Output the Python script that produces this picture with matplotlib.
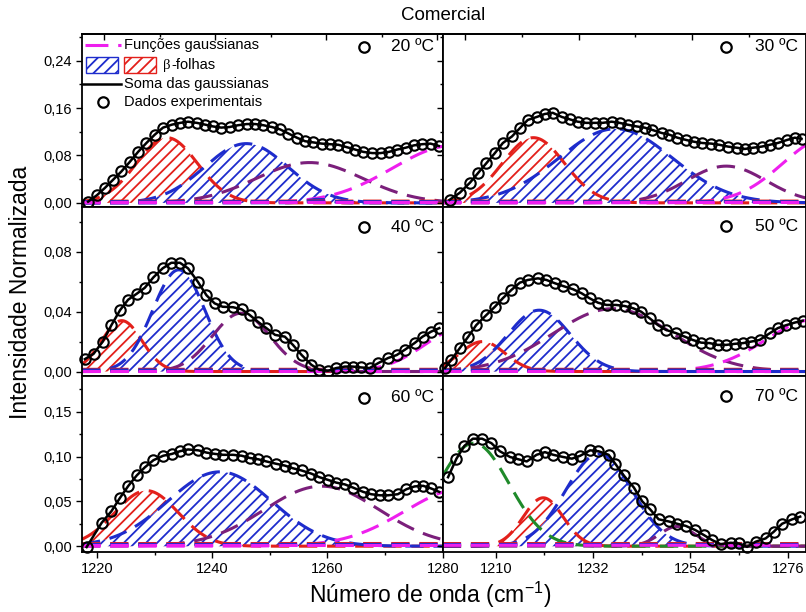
import numpy as np
import matplotlib
matplotlib.use('Agg')
import matplotlib.pyplot as plt
from matplotlib.lines import Line2D
from matplotlib.patches import Rectangle
from matplotlib.ticker import FixedLocator, NullFormatter

plt.rcParams['font.family'] = ['Liberation Sans', 'DejaVu Sans']
plt.rcParams['mathtext.fontset'] = 'custom'
plt.rcParams['mathtext.rm'] = 'Liberation Sans'
plt.rcParams['mathtext.it'] = 'Liberation Sans:italic'
plt.rcParams['hatch.linewidth'] = 1.3

# ---------------- data ----------------
temps = ['20 ºC', '30 ºC', '40 ºC', '50 ºC', '60 ºC', '70 ºC']

wn_20 = [1217.1, 1218.7, 1220.1, 1221.6, 1223.1, 1224.6, 1226.1, 1227.6, 1229.1, 1230.6,
         1232.2, 1233.7, 1235.1, 1236.7, 1238.2, 1239.6, 1241.1, 1242.6, 1244.1, 1245.7,
         1247.2, 1248.7, 1250.2, 1251.7, 1253.2, 1254.7, 1256.2, 1257.7, 1259.2, 1260.7,
         1262.2, 1263.7, 1265.2, 1266.7, 1268.3, 1269.8, 1271.3, 1272.8, 1274.3, 1275.8,
         1277.3, 1278.8, 1280.3]
int_20 = [0.002, 0.013, 0.025, 0.039, 0.053, 0.069, 0.086, 0.101, 0.115, 0.127,
          0.132, 0.135, 0.137, 0.135, 0.132, 0.129, 0.127, 0.128, 0.131, 0.133,
          0.133, 0.131, 0.128, 0.124, 0.117, 0.110, 0.104, 0.102, 0.100, 0.099,
          0.098, 0.094, 0.090, 0.086, 0.084, 0.084, 0.086, 0.090, 0.093, 0.097,
          0.099, 0.100, 0.096]

wn_30 = [1217.2, 1219.0, 1220.8, 1222.2, 1223.7, 1225.2, 1226.6, 1228.2, 1229.6, 1231.0,
         1232.6, 1234.0, 1235.4, 1237.0, 1238.4, 1239.8, 1241.3, 1242.8, 1244.2, 1245.8,
         1247.2, 1248.6, 1250.2, 1251.6, 1253.0, 1254.6, 1256.0, 1257.4, 1259.0, 1260.4,
         1261.8, 1263.4, 1264.8, 1266.3, 1267.9, 1269.3, 1270.7, 1272.3, 1273.7, 1275.1,
         1276.7, 1278.1, 1279.3]
int_30 = [0.005, 0.017, 0.034, 0.050, 0.067, 0.084, 0.101, 0.112, 0.126, 0.140,
          0.145, 0.150, 0.152, 0.145, 0.141, 0.137, 0.135, 0.135, 0.135, 0.137,
          0.135, 0.132, 0.129, 0.127, 0.123, 0.118, 0.115, 0.110, 0.106, 0.103,
          0.101, 0.100, 0.098, 0.095, 0.093, 0.091, 0.093, 0.095, 0.098, 0.101,
          0.106, 0.110, 0.108]

wn_40 = [1217.9, 1219.4, 1221.0, 1222.5, 1224.0, 1225.4, 1226.9, 1228.3, 1229.8, 1231.4,
         1232.9, 1234.4, 1235.8, 1237.5, 1239.0, 1240.4, 1241.8, 1243.6, 1245.1, 1246.5,
         1247.9, 1249.4, 1250.9, 1252.6, 1254.0, 1255.5, 1257.2, 1258.6, 1260.1, 1261.5,
         1263.0, 1264.4, 1265.9, 1267.3, 1268.8, 1270.5, 1272.0, 1273.4, 1275.1, 1276.5,
         1278.0, 1279.4]
int_40 = [0.0083, 0.0118, 0.020, 0.031, 0.041, 0.048, 0.052, 0.056, 0.063, 0.069,
          0.0727, 0.0727, 0.069, 0.060, 0.051, 0.0456, 0.0433, 0.043, 0.0416, 0.0378,
          0.0333, 0.029, 0.0245, 0.0233, 0.0178, 0.0111, 0.0045, 0.0011, 0.0005, 0.0023,
          0.0033, 0.0033, 0.0027, 0.0023, 0.0056, 0.009, 0.011, 0.0145, 0.019, 0.0233,
          0.0267, 0.029]

wn_50 = [1216.4, 1217.5, 1219.0, 1220.5, 1221.9, 1223.7, 1225.2, 1226.6, 1228.1, 1229.6,
         1231.0, 1232.8, 1234.3, 1235.8, 1237.2, 1239.0, 1240.5, 1241.9, 1243.4, 1244.9,
         1246.6, 1248.1, 1249.6, 1251.0, 1252.5, 1254.0, 1255.4, 1257.2, 1258.7, 1260.1,
         1261.6, 1263.1, 1264.5, 1266.0, 1267.5, 1269.0, 1270.4, 1271.9, 1273.7, 1275.1,
         1276.6, 1278.1, 1279.5]
int_50 = [0.0023, 0.0078, 0.0156, 0.0233, 0.031, 0.0378, 0.0433, 0.049, 0.0545, 0.0594,
          0.0612, 0.0623, 0.0612, 0.059, 0.0572, 0.055, 0.0523, 0.049, 0.046, 0.0445,
          0.0445, 0.0438, 0.0423, 0.040, 0.0356, 0.031, 0.0278, 0.0256, 0.0233, 0.0211,
          0.0193, 0.019, 0.0178, 0.0178, 0.0185, 0.019, 0.020, 0.0211, 0.0256, 0.029,
          0.031, 0.0327, 0.034]

wn_60 = [1218.2, 1220.8, 1222.5, 1224.0, 1225.4, 1226.9, 1228.3, 1229.8, 1231.5, 1233.0,
         1234.4, 1235.8, 1237.6, 1239.0, 1240.5, 1241.9, 1243.6, 1245.1, 1246.5, 1248.0,
         1249.4, 1251.1, 1252.6, 1254.0, 1255.5, 1257.2, 1258.6, 1260.1, 1261.5, 1263.0,
         1264.4, 1266.2, 1267.6, 1269.1, 1270.5, 1272.2, 1273.7, 1275.1, 1276.6, 1278.0,
         1279.4]
int_60 = [-0.001, 0.026, 0.039, 0.054, 0.067, 0.079, 0.088, 0.096, 0.101, 0.103,
          0.106, 0.108, 0.107, 0.1045, 0.103, 0.102, 0.102, 0.101, 0.0985, 0.097,
          0.0946, 0.092, 0.090, 0.087, 0.0845, 0.081, 0.077, 0.074, 0.071, 0.069,
          0.0655, 0.0606, 0.058, 0.0568, 0.0568, 0.058, 0.0636, 0.0667, 0.0674, 0.0644,
          0.0606]

wn_70 = [1199.2, 1201.1, 1202.9, 1204.8, 1206.9, 1209.0, 1210.9, 1213.2, 1215.1, 1217.0,
         1219.2, 1221.1, 1223.0, 1225.2, 1227.2, 1229.1, 1231.3, 1233.2, 1235.5, 1237.0,
         1238.9, 1241.2, 1243.1, 1244.9, 1246.8, 1249.1, 1251.0, 1252.9, 1255.1, 1257.0,
         1258.9, 1260.8, 1263.1, 1264.9, 1266.8, 1268.7, 1271.0, 1272.8, 1274.7, 1277.0,
         1278.8]
int_70 = [0.077, 0.0977, 0.112, 0.120, 0.120, 0.115, 0.106, 0.0996, 0.097, 0.0946,
          0.102, 0.105, 0.102, 0.0996, 0.0977, 0.101, 0.107, 0.106, 0.102, 0.092,
          0.079, 0.0655, 0.050, 0.041, 0.030, 0.0276, 0.025, 0.0227, 0.018, 0.0125,
          0.0068, 0.0023, 0.0038, 0.003, -0.0008, 0.0049, 0.0087, 0.016, 0.025, 0.030,
          0.033]

# Gaussian components: (kind, centre, amplitude, sigma); 'rf'/'bf' = hatched beta-sheet bands
comp_20 = [('rf', 1231.3, 0.110, 5.5), ('bf', 1245.6, 0.100, 7.5), ('p', 1257.0, 0.068, 9.6),
           ('m', 1283.0, 0.097, 11.0), ('b', 1258.5, 0.006, 2.0),
           ('r', 1250, 0.003, 200), ('b', 1250, 0.002, 200), ('m', 1250, 0.001, 200)]
comp_30 = [('rf', 1232.0, 0.110, 5.5), ('bf', 1246.5, 0.125, 10.0), ('p', 1266.0, 0.062, 7.0),
           ('m', 1284.0, 0.110, 8.0),
           ('r', 1250, 0.003, 200), ('b', 1250, 0.002, 200), ('m', 1250, 0.001, 200)]
comp_40 = [('rf', 1224.3, 0.034, 3.5), ('bf', 1234.2, 0.068, 4.5), ('p', 1245.0, 0.039, 5.0),
           ('m', 1284.0, 0.030, 7.0),
           ('r', 1250, 0.0015, 200), ('b', 1250, 0.001, 200), ('m', 1250, 0.0005, 200)]
comp_50 = [('rf', 1223.0, 0.020, 4.0), ('bf', 1233.0, 0.041, 5.5), ('p', 1246.0, 0.042, 10.5),
           ('m', 1282.0, 0.035, 9.0),
           ('r', 1250, 0.0015, 200), ('b', 1250, 0.001, 200), ('m', 1250, 0.0005, 200)]
comp_60 = [('rf', 1228.6, 0.062, 5.5), ('bf', 1241.3, 0.083, 9.0), ('p', 1259.0, 0.067, 10.0),
           ('m', 1284.0, 0.065, 10.5),
           ('r', 1250, 0.003, 200), ('b', 1250, 0.002, 200), ('m', 1250, 0.001, 200)]
comp_70 = [('rf', 1220.7, 0.054, 4.5), ('bf', 1233.3, 0.103, 7.5), ('g', 1205.0, 0.115, 8.0),
           ('p', 1251.0, 0.022, 4.0),
           ('r', 1240, 0.003, 200), ('b', 1240, 0.002, 200), ('m', 1240, 0.001, 200)]

yt_top = [0.00, 0.08, 0.16, 0.24]
yt_top_lab = ['0,00', '0,08', '0,16', '0,24']
yt_mid = [0.00, 0.04, 0.08]
yt_mid_lab = ['0,00', '0,04', '0,08']
yt_bot = [0.00, 0.05, 0.10, 0.15]
yt_bot_lab = ['0,00', '0,05', '0,10', '0,15']
xt_left = [1220, 1240, 1260, 1280]
xt_right_bot = [1210, 1232, 1254, 1276]

# ---------------- styling ----------------
COL = {'r': '#e3201b', 'b': '#1e2ccc', 'p': '#7b1f7b', 'm': '#ee1fee', 'g': '#1f8a2a'}
DASH = (6.0, 3.2)
HATCH = '///'

fig = plt.figure(figsize=(8.06, 6.12), dpi=100)
gs = fig.add_gridspec(3, 2, left=82 / 806, right=805.5 / 806, top=1 - 34 / 612,
                      bottom=1 - 552 / 612, hspace=0, wspace=0,
                      height_ratios=[173, 169, 176], width_ratios=[361, 363])

panels = [
    (0, 0, wn_20, int_20, comp_20, temps[0], (1216, 1281), (-0.007, 0.285), 0.927),
    (0, 1, wn_30, int_30, comp_30, temps[1], (1216, 1280), (-0.007, 0.285), 0.927),
    (1, 0, wn_40, int_40, comp_40, temps[2], (1217.4, 1280), (-0.003, 0.110), 0.88),
    (1, 1, wn_50, int_50, comp_50, temps[3], (1216, 1280), (-0.003, 0.110), 0.885),
    (2, 0, wn_60, int_60, comp_60, temps[4], (1217.4, 1280), (-0.0065, 0.190), 0.875),
    (2, 1, wn_70, int_70, comp_70, temps[5], (1198, 1280), (-0.0065, 0.190), 0.885),
]
yticks_rows = [(yt_top, yt_top_lab), (yt_mid, yt_mid_lab), (yt_bot, yt_bot_lab)]

axes = {}
for (r, c, wn, yv, comps, lab, xl, yl, ylab) in panels:
    ax = fig.add_subplot(gs[r, c])
    axes[(r, c)] = ax
    xf = np.linspace(xl[0], xl[1], 600)
    # hatched bands first (red then blue over it)
    for kind in ('rf', 'bf'):
        for (k, cen, amp, sig) in comps:
            if k != kind:
                continue
            g = amp * np.exp(-0.5 * ((xf - cen) / sig) ** 2)
            ax.fill_between(xf, 0, g, where=g > 0.03 * amp, facecolor='white',
                            edgecolor=COL[k[0]], hatch=HATCH, linewidth=0, zorder=1)
    for (k, cen, amp, sig) in comps:
        g = amp * np.exp(-0.5 * ((xf - cen) / sig) ** 2)
        ax.plot(xf, g, color=COL[k[0]], lw=2.2, dashes=DASH, zorder=2)
    ax.plot(wn, yv, color='black', lw=1.8, zorder=3)
    ax.plot(wn, yv, 'o', mfc='none', mec='black', ms=7.5, mew=1.5, zorder=4, clip_on=False)

    ax.set_xlim(*xl)
    ax.set_ylim(*yl)
    yt, ytl = yticks_rows[r]
    ax.yaxis.set_major_locator(FixedLocator(yt))
    step = yt[1] - yt[0]
    ax.yaxis.set_minor_locator(FixedLocator([v + step / 2 for v in yt]))
    if c == 0:
        ax.set_yticklabels(ytl, fontsize=10.5)
    else:
        ax.yaxis.set_major_formatter(NullFormatter())
    if (r, c) == (2, 1):
        xt = xt_right_bot
        xmin = [v + 11 for v in xt[:-1]]
    elif (r, c) == (1, 1):
        xt = [1220, 1230, 1240, 1250, 1260, 1270, 1280]
        xmin = [v + 5 for v in xt[:-1]]
    else:
        xt = xt_left
        xmin = [v + 10 for v in xt[:-1]]
    ax.xaxis.set_major_locator(FixedLocator(xt))
    ax.xaxis.set_minor_locator(FixedLocator(xmin))
    if r == 2:
        ax.set_xticklabels([str(v) for v in xt], fontsize=10.5)
    else:
        ax.xaxis.set_major_formatter(NullFormatter())
    ax.tick_params(which='major', direction='out', length=4, width=1.0, pad=3)
    ax.tick_params(which='minor', direction='out', length=2.2, width=1.0)
    for s in ax.spines.values():
        s.set_linewidth(1.3)
    if r == 0:
        sec = ax.secondary_xaxis('top')
        sec.xaxis.set_major_locator(FixedLocator(xt))
        sec.xaxis.set_minor_locator(FixedLocator(xmin))
        sec.xaxis.set_major_formatter(NullFormatter())
        sec.tick_params(which='major', direction='in', length=4, width=1.0)
        sec.tick_params(which='minor', direction='in', length=2.2, width=1.0)
        sec.spines['top'].set_linewidth(1.3)

    # temperature tag
    ax.plot([0.782], [ylab], 'o', transform=ax.transAxes, mfc='none', mec='black',
            ms=7.5, mew=1.6, clip_on=False, zorder=5)
    ax.text(0.857 if c == 0 else 0.862, ylab, lab, transform=ax.transAxes,
            ha='left', va='center', fontsize=12.5, zorder=5)

# ---------------- legend (top-left panel) ----------------
ax0 = axes[(0, 0)]
tr = ax0.transAxes
ax0.add_line(Line2D([0.008, 0.108], [0.936, 0.936], transform=tr, color=COL['m'],
                    lw=2.2, dashes=(7.5, 3.2), zorder=6))
ax0.text(0.116, 0.936, 'Funções gaussianas', transform=tr, ha='left', va='center',
         fontsize=10.5, zorder=6)
ax0.add_patch(Rectangle((0.011, 0.772), 0.089, 0.095, transform=tr, facecolor='white',
                        edgecolor=COL['b'], hatch=HATCH, linewidth=1.0, zorder=6))
ax0.add_patch(Rectangle((0.116, 0.772), 0.089, 0.095, transform=tr, facecolor='white',
                        edgecolor=COL['r'], hatch=HATCH, linewidth=1.0, zorder=6))
ax0.text(0.224, 0.82, 'β', transform=tr, ha='left', va='center', fontsize=10.5,
         family=['Liberation Serif', 'DejaVu Serif'], zorder=6)
ax0.text(0.248, 0.82, '-folhas', transform=tr, ha='left', va='center', fontsize=10.5, zorder=6)
ax0.add_line(Line2D([0.003, 0.108], [0.711, 0.711], transform=tr, color='black', lw=1.8, zorder=6))
ax0.text(0.116, 0.711, 'Soma das gaussianas', transform=tr, ha='left', va='center',
         fontsize=10.5, zorder=6)
ax0.plot([0.058], [0.607], 'o', transform=tr, mfc='none', mec='black', ms=7.5, mew=1.6, zorder=6)
ax0.text(0.116, 0.607, 'Dados experimentais', transform=tr, ha='left', va='center',
         fontsize=10.5, zorder=6)

# ---------------- figure texts ----------------
fig.text(443 / 806, 1 - 15 / 612, 'Comercial', ha='center', va='center', fontsize=13.5)
fig.text(430 / 806, 1 - 603 / 612, r'Número de onda (cm$^{\mathregular{-1}}$)',
         ha='center', va='baseline', fontsize=16.5)
fig.text(21 / 806, 1 - 292 / 612, 'Intensidade Normalizada', rotation=90,
         ha='center', va='center', fontsize=16.5)

fig.savefig('out.png', dpi=100)
